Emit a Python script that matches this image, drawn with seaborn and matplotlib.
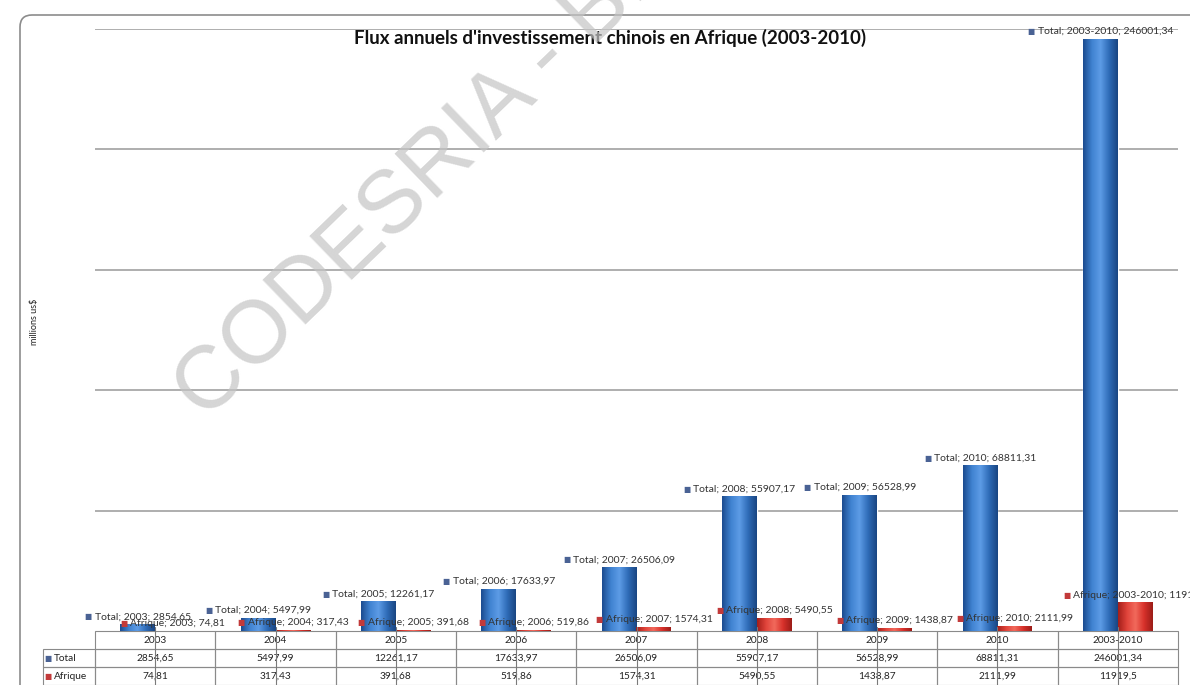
import numpy as np
import pandas as pd
import seaborn as sns
import matplotlib.pyplot as plt
import matplotlib.patches as mpatches
from matplotlib.colors import LinearSegmentedColormap
from matplotlib.transforms import IdentityTransform
from matplotlib.offsetbox import TextArea, HPacker, AnnotationBbox

# valeurs (millions us$)
periodes = ["2003", "2004", "2005", "2006", "2007", "2008", "2009", "2010", "2003-2010"]
total = [2854.65, 5497.99, 12261.17, 17633.97, 26506.09, 55907.17, 56528.99, 68811.31, 246001.34]
afrique = [74.81, 317.43, 391.68, 519.86, 1574.31, 5490.55, 1438.87, 2111.99, 11919.5]
series = ["Total", "Afrique"]

titre = "Flux annuels d'investissement chinois en Afrique (2003-2010)"
bleu = "#2f6cb8"
rouge = "#d8312b"
sq_colors = {"Total": "#4a6294", "Afrique": "#c23a3a"}
# degrades pour l'effet cylindre
degrades = {
    "Total": LinearSegmentedColormap.from_list("b", ["#1c4c90", "#3f82d0", "#5d9ce6", "#2f6cb8", "#1a4683"]),
    "Afrique": LinearSegmentedColormap.from_list("r", ["#a41f1a", "#e0433a", "#f26a5c", "#d8312b", "#9c1d18"]),
}


def fmt(v):
    return str(v).replace(".", ",")


df = pd.DataFrame({
    "periode": periodes * 2,
    "serie": ["Total"] * len(periodes) + ["Afrique"] * len(periodes),
    "valeur": total + afrique,
})

sns.set_theme(style="white")
plt.rcParams["font.family"] = ["Lato", "DejaVu Sans"]

fig = plt.figure(figsize=(11.9, 6.85), dpi=100)
ax = fig.add_axes([95 / 1190, 1 - 631 / 685, 1083 / 1190, 602 / 685])

sns.barplot(data=df, x="periode", y="valeur", hue="serie",
            palette={"Total": bleu, "Afrique": rouge}, width=0.58,
            saturation=1, legend=False, ax=ax, zorder=3)

# ombrage en degrade sur chaque barre
grad = np.linspace(0, 1, 64).reshape(1, -1)
for cont, serie in zip(ax.containers, series):
    for bar in cont.patches:
        x0, w, h = bar.get_x(), bar.get_width(), bar.get_height()
        im = ax.imshow(grad, extent=[x0, x0 + w, 0, h], aspect="auto",
                       cmap=degrades[serie], zorder=3.5, interpolation="bilinear")
        im.set_clip_path(bar)

ax.set_ylim(0, 250000)
ax.set_xlim(-0.5, len(periodes) - 0.5)
ax.set_yticks([50000, 100000, 150000, 200000, 250000])
ax.yaxis.grid(True, color="#a8a8a8", lw=1.3)
ax.set_axisbelow(True)
ax.tick_params(left=False, bottom=False, labelleft=False, labelbottom=False)
ax.set_xlabel("")
ax.set_ylabel("")
sns.despine(ax=ax, left=True, bottom=True)

# etiquettes de donnees
for cont, serie in zip(ax.containers, series):
    vals = total if serie == "Total" else afrique
    for bar, per, v in zip(cont.patches, periodes, vals):
        x = bar.get_x() + bar.get_width() / 2
        y = bar.get_height()
        sq = TextArea("■", textprops=dict(color=sq_colors[serie], fontsize=5.5))
        txt = TextArea(f"{serie}; {per}; {fmt(v)}", textprops=dict(fontsize=7.5, color="#333333"))
        box = HPacker(children=[sq, txt], align="center", pad=0, sep=2)
        ab = AnnotationBbox(box, (x, y), xybox=(0, 2), xycoords="data",
                            boxcoords="offset points", frameon=False,
                            box_alignment=(0.5, 0), annotation_clip=False, zorder=5)
        ax.add_artist(ab)

# table de donnees sous le graphique
col_labels = [""] + periodes
cell_text = [[""] + [fmt(v) for v in total], [""] + [fmt(v) for v in afrique]]
tab = ax.table(cellText=cell_text, colLabels=col_labels,
               colWidths=[52 / 1083] + [1 / 9] * 9, cellLoc="center",
               bbox=[-0.048, -0.09, 1.048, 0.09])
tab.auto_set_font_size(False)
tab.set_fontsize(7.3)
for (r, c), cell in tab.get_celld().items():
    cell.set_edgecolor("#8a8a8a")
    cell.set_linewidth(0.8)
    cell.set_facecolor("none")
    cell.get_text().set_color("#222222")
    if r == 0 and c == 0:
        cell.visible_edges = "open"

for serie, yy in zip(series, [-0.0449, -0.0748]):
    ax.text(-0.0434, yy, "■", color=sq_colors[serie], fontsize=5.5,
            ha="center", va="center", transform=ax.transAxes)
    ax.text(-0.038, yy, serie, fontsize=7.3, color="#222222",
            ha="left", va="center", transform=ax.transAxes)

# traits verticaux au centre de chaque categorie
for bar in ax.containers[0].patches:
    xc = bar.get_x() + bar.get_width()
    ax.plot([xc, xc], [-0.09, 0.006], color="#7a7a7a", lw=0.8,
            transform=ax.get_xaxis_transform(), clip_on=False, zorder=4)

fig.text(610 / 1190, 1 - 38 / 685, titre, ha="center", va="center",
         fontsize=13.5, fontweight="bold", color="#111111")
fig.text(35 / 1190, 1 - 322 / 685, "millions us$", rotation=90,
         ha="center", va="center", fontsize=6.5, color="#222222")

# cadre arrondi de la zone du graphique
cadre = mpatches.FancyBboxPatch((20, -60), 1400, 730,
                                boxstyle="round,pad=0,rounding_size=12",
                                transform=IdentityTransform(), fill=False,
                                edgecolor="#8c8c8c", lw=1.2)
fig.add_artist(cadre)

# filigrane
fig.text(205 / 1190, 1 - 422 / 685, "CODESRIA - BIBLIOTHEQUE", rotation=44,
         rotation_mode="anchor", ha="left", va="baseline", fontsize=64,
         family="Liberation Sans", color="#c4c4c4", alpha=0.7, zorder=10)

fig.savefig("out.png", dpi=100)
